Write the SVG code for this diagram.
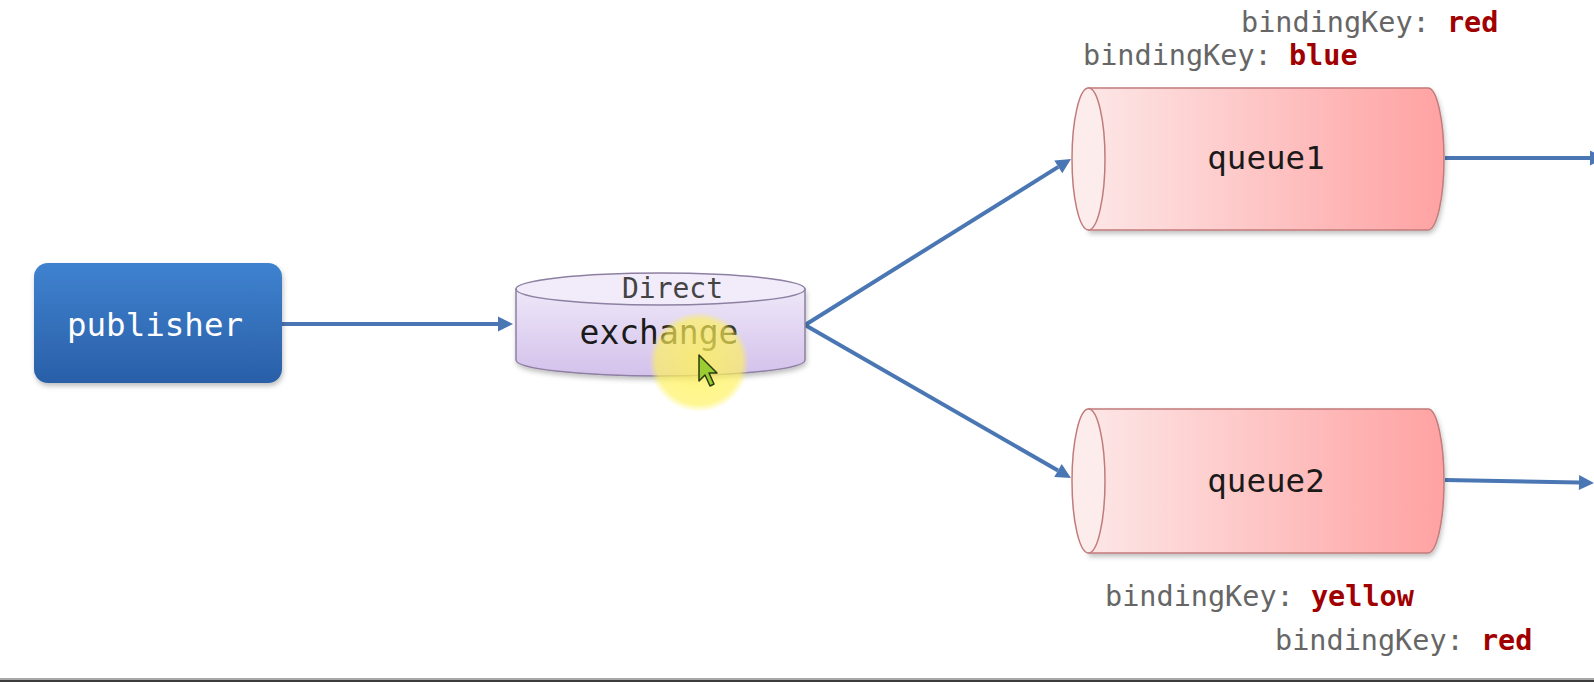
<svg xmlns="http://www.w3.org/2000/svg" width="1594" height="682" viewBox="0 0 1594 682">
  <style>
    .mono { font-family: "DejaVu Sans Mono", "Liberation Mono", monospace; }
    .key { font-size: 28.5px; fill: #666666; }
    .val { font-weight: bold; fill: #a00000; }
    .conn { stroke: #4a77b4; stroke-width: 4; fill: none; marker-end: url(#ah); }
    .qbody { fill: url(#qgrad); stroke: #c27b7b; stroke-width: 1.5; }
    .qcap { fill: #fdecec; stroke: #c27b7b; stroke-width: 1.5; }
    .qtext { font-size: 32.5px; fill: #1a1a1a; text-anchor: middle; }
  </style>
  <defs>
    <linearGradient id="pubgrad" x1="0" y1="0" x2="0" y2="1">
      <stop offset="0" stop-color="#3f82cf"/>
      <stop offset="1" stop-color="#2a5fa8"/>
    </linearGradient>
    <linearGradient id="exgrad" x1="0" y1="0" x2="0" y2="1">
      <stop offset="0" stop-color="#eee7f8"/>
      <stop offset="1" stop-color="#d3c1eb"/>
    </linearGradient>
    <linearGradient id="qgrad" x1="0" y1="0" x2="1" y2="0">
      <stop offset="0" stop-color="#fde6e6"/>
      <stop offset="1" stop-color="#ffa2a2"/>
    </linearGradient>
    <radialGradient id="hl" cx="0.5" cy="0.5" r="0.5">
      <stop offset="0" stop-color="#fff25a" stop-opacity="0.8"/>
      <stop offset="0.85" stop-color="#fff25a" stop-opacity="0.65"/>
      <stop offset="1" stop-color="#fff25a" stop-opacity="0"/>
    </radialGradient>
    <filter id="sh" x="-10%" y="-10%" width="120%" height="130%">
      <feDropShadow dx="1" dy="3" stdDeviation="2.5" flood-color="#000" flood-opacity="0.25"/>
    </filter>
    <marker id="ah" markerUnits="userSpaceOnUse" markerWidth="18" markerHeight="16" refX="0" refY="7.5" orient="auto" overflow="visible">
      <path d="M0,0 L15,7.5 L0,15 z" fill="#4a77b4"/>
    </marker>
  </defs>

  <rect width="1594" height="682" fill="#ffffff"/>

  <g id="connectors">
    <line class="conn" x1="282" y1="324" x2="498" y2="324"/>
    <line class="conn" x1="805" y1="325" x2="1058.3" y2="166.9"/>
    <line class="conn" x1="805" y1="325" x2="1058" y2="470.5"/>
    <line class="conn" x1="1445" y1="158" x2="1590" y2="158"/>
    <line class="conn" x1="1445" y1="480" x2="1579" y2="482.6"/>
  </g>

  <g id="publisher">
    <rect x="34" y="263" width="248" height="120" rx="14" fill="url(#pubgrad)" filter="url(#sh)"/>
    <text class="mono" x="155" y="336" font-size="32.5" fill="#ffffff" text-anchor="middle">publisher</text>
  </g>

  <g id="exchange">
    <path d="M516,289 L516,360 A144.5,16 0 0 0 805,360 L805,289 Z" fill="url(#exgrad)" stroke="#8e80a2" stroke-width="1.5" filter="url(#sh)"/>
    <ellipse cx="660.5" cy="289" rx="144.5" ry="16" fill="#f2ecfa" stroke="#8e80a2" stroke-width="1.5"/>
    <text class="mono" x="672.5" y="298" font-size="28" fill="#444444" text-anchor="middle">Direct</text>
    <text class="mono" x="659" y="344" font-size="33" fill="#1a1a1a" text-anchor="middle">exchange</text>
  </g>

  <g id="queue1">
    <path class="qbody" d="M1088.5,88 L1428,88 A16,71 0 0 1 1428,230 L1088.5,230 Z" filter="url(#sh)"/>
    <ellipse class="qcap" cx="1088.5" cy="159" rx="16.5" ry="71"/>
    <text class="mono qtext" x="1266" y="169">queue1</text>
  </g>

  <g id="queue2">
    <path class="qbody" d="M1088.5,409 L1428,409 A16,72 0 0 1 1428,553 L1088.5,553 Z" filter="url(#sh)"/>
    <ellipse class="qcap" cx="1088.5" cy="481" rx="16.5" ry="72"/>
    <text class="mono qtext" x="1266" y="492">queue2</text>
  </g>

  <g id="labels">
    <text class="mono key" x="1241" y="32">bindingKey: <tspan class="val">red</tspan></text>
    <text class="mono key" x="1083" y="65">bindingKey: <tspan class="val">blue</tspan></text>
    <text class="mono key" x="1105" y="606">bindingKey: <tspan class="val">yellow</tspan></text>
    <text class="mono key" x="1275" y="650">bindingKey: <tspan class="val">red</tspan></text>
  </g>

  <g id="cursor">
    <circle cx="699" cy="362" r="50" fill="url(#hl)"/>
    <path d="M699,355 L699,381 L705,375 L710,386 L714,384 L709,373 L717,373 Z" fill="#9acd32" stroke="#2a3a10" stroke-width="1.5" stroke-linejoin="round"/>
  </g>

  <rect x="0" y="678" width="1594" height="2" fill="#a8a8a8"/>
  <rect x="0" y="680" width="1594" height="2" fill="#3c3c3c"/>
</svg>
